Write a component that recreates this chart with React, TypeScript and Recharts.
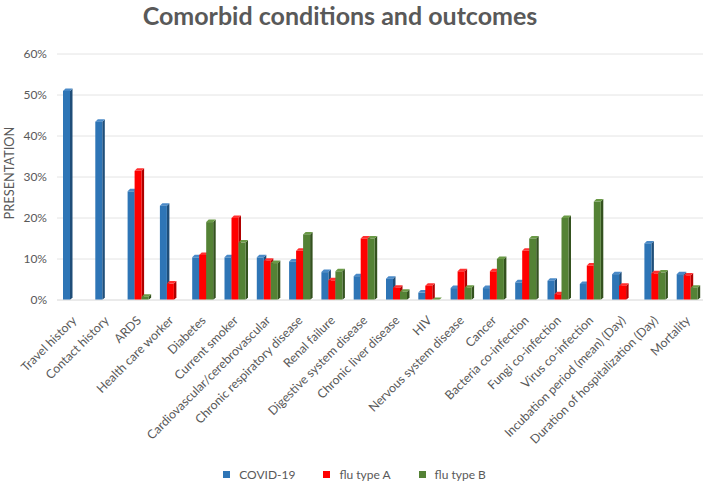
import React from 'react';
import { BarChart, Bar, XAxis, YAxis, CartesianGrid, Legend } from 'recharts';

const categories = [
  'Travel history',
  'Contact history',
  'ARDS',
  'Health care worker',
  'Diabetes',
  'Current smoker',
  'Cardiovascular/cerebrovascular',
  'Chronic respiratory disease',
  'Renal failure',
  'Digestive system disease',
  'Chronic liver disease',
  'HIV',
  'Nervous system disease',
  'Cancer',
  'Bacteria co-infection',
  'Fungi co-infection',
  'Virus co-infection',
  'Incubation period (mean) (Day)',
  'Duration of hospitalization (Day)',
  'Mortality',
];

const covid19 = [51, 43.5, 26.5, 23, 10.4, 10.4, 10.4, 9.4, 6.8, 5.8, 5.2, 1.8, 2.9, 2.9, 4.3, 4.7, 3.9, 6.3, 13.8, 6.3];
const fluA = [null, null, 31.5, 4, 11, 20, 9.6, 12, 4.8, 15, 3, 3.5, 7, 7, 12, 1.4, 8.4, 3.5, 6.5, 6];
const fluB = [null, null, 0.8, null, 19, 14, 9, 16, 7, 15, 2, 0, 3, 10, 15, 20, 24, null, 6.7, 3];

const yTicks = [0, 10, 20, 30, 40, 50, 60];

const seriesNames = ['COVID-19', 'flu type A', 'flu type B'];

const data = categories.map((c, i) => ({
  name: c,
  covid: covid19[i],
  fluA: fluA[i],
  fluB: fluB[i],
}));

const FONT = 'Lato, "Open Sans", sans-serif';
const GRAY = '#595959';

const make3D = (front: string, side: string, top: string) => (props: any) => {
  const { x, y, width, height } = props;
  if (x == null || y == null || props.value == null) return <g />;
  const d = 2.5;
  const h = Math.max(0, height || 0);
  const w = width;
  return (
    <g>
      <polygon
        points={`${x + w},${y} ${x + w + d},${y - d} ${x + w + d},${y + h - d} ${x + w},${y + h}`}
        fill={side}
      />
      <polygon
        points={`${x},${y} ${x + d},${y - d} ${x + w + d},${y - d} ${x + w},${y}`}
        fill={top}
      />
      {h > 0 && <rect x={x} y={y} width={w} height={h} fill={front} />}
    </g>
  );
};

const XTick = (props: any) => {
  const { x, y, payload } = props;
  const ax = x + 1;
  const ay = y + 10;
  return (
    <text
      x={ax}
      y={ay}
      transform={`rotate(-45, ${ax}, ${ay})`}
      textAnchor="end"
      dominantBaseline="central"
      fontSize={12.3}
      fill={GRAY}
      fontFamily={FONT}
    >
      {payload.value}
    </text>
  );
};

const LegendContent = (props: any) => {
  const { payload } = props;
  return (
    <div
      style={{
        display: 'flex',
        justifyContent: 'center',
        alignItems: 'center',
        gap: 28,
        fontFamily: FONT,
        fontSize: 12,
        color: GRAY,
      }}
    >
      {(payload || []).map((p: any) => (
        <div key={p.value} style={{ display: 'flex', alignItems: 'center' }}>
          <span style={{ display: 'inline-block', width: 7, height: 7, background: p.color, marginRight: 9 }} />
          <span>{p.value}</span>
        </div>
      ))}
    </div>
  );
};

export default function App() {
  return (
    <div style={{ position: 'absolute', left: 0, top: 0, width: 709, height: 483, background: '#fff' }}>
      <div
        style={{
          position: 'absolute',
          left: 0,
          top: 0,
          width: 680,
          textAlign: 'center',
          fontFamily: FONT,
          fontWeight: 700,
          fontSize: 25,
          color: GRAY,
          lineHeight: '30px',
        }}
      >
        Comorbid conditions and outcomes
      </div>
      <BarChart
        width={709}
        height={483}
        data={data}
        margin={{ top: 54, right: 6, left: 0, bottom: 0 }}
        barGap={0}
        barSize={7}
      >
        <CartesianGrid vertical={false} stroke="#e4e4e4" />
        <XAxis
          dataKey="name"
          interval={0}
          height={183}
          tick={<XTick />}
          tickLine={false}
          axisLine={{ stroke: '#e4e4e4' }}
        />
        <YAxis
          width={57}
          domain={[0, 60]}
          ticks={yTicks}
          tickFormatter={(v: number) => `${v}%`}
          tick={{ fontSize: 12, fill: GRAY, fontFamily: FONT }}
          tickLine={false}
          axisLine={false}
          tickMargin={4}
          label={(p: any) => (
            <text
              x={9}
              y={173}
              transform="rotate(-90, 9, 173)"
              textAnchor="middle"
              dominantBaseline="central"
              fontSize={12.8}
              fill={GRAY}
              fontFamily={FONT}
            >
              PRESENTATION
            </text>
          )}
        />
        <Legend
          verticalAlign="middle"
          align="center"
          layout="horizontal"
          wrapperStyle={{ top: 467, left: 0, width: 709 }}
          content={<LegendContent />}
        />
        <Bar dataKey="covid" name={seriesNames[0]} fill="#2E75B6" isAnimationActive={false}
          shape={make3D('#2E75B6', '#1F4E79', '#4A8AC8')} />
        <Bar dataKey="fluA" name={seriesNames[1]} fill="#FF0000" isAnimationActive={false}
          shape={make3D('#FF0000', '#B00000', '#FF3030')} />
        <Bar dataKey="fluB" name={seriesNames[2]} fill="#548235" isAnimationActive={false}
          shape={make3D('#548235', '#34521F', '#6A9A46')} />
      </BarChart>
    </div>
  );
}
